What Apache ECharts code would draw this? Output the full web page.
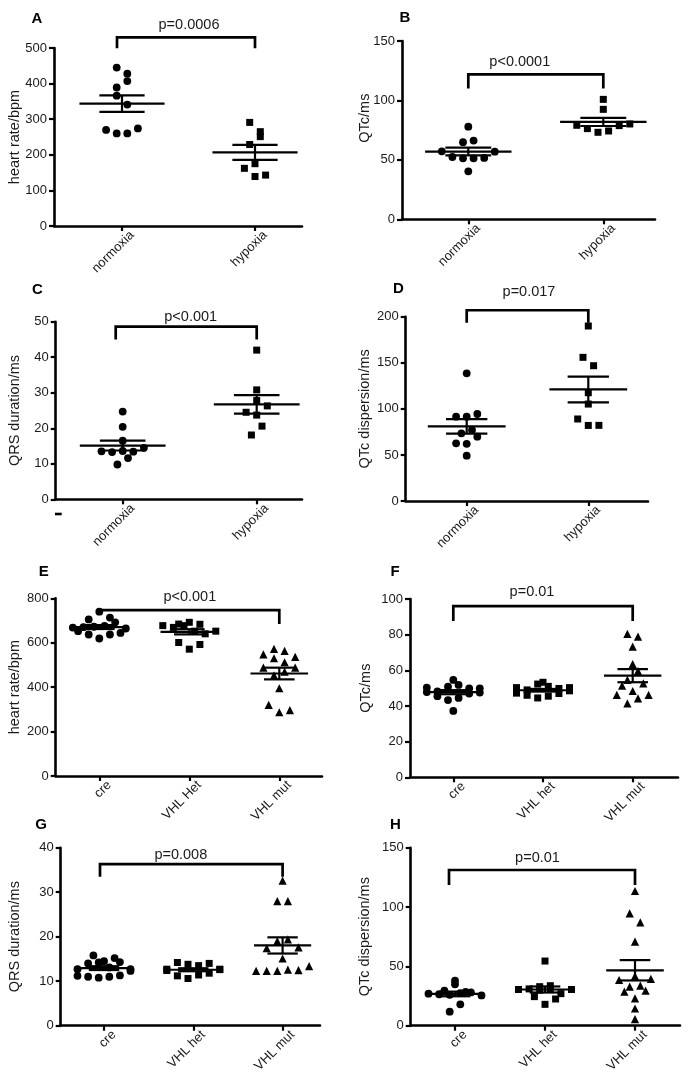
<!DOCTYPE html>
<html>
<head>
<meta charset="utf-8">
<title>ECG parameters</title>
<script src="https://cdn.jsdelivr.net/npm/echarts@6.0.0/dist/echarts.min.js"></script>
<style>
html,body{margin:0;padding:0;background:#ffffff;}
#chart{width:688px;height:1088px;}
</style>
</head>
<body>
<div id="chart"></div>
<script>
// ================= DATA =================
const catsHypoxia = ['normoxia', 'hypoxia'];
const catsVHLE = ['cre', 'VHL Het', 'VHL mut'];
const catsVHL = ['cre', 'VHL het', 'VHL mut'];

// A: heart rate (bpm)
const aNormoxia = [445, 428, 389, 407, 366, 341, 270, 260, 260, 274];
const aHypoxia = [291, 265, 229, 251, 175, 162, 139, 143];
const ticksA = [0, 100, 200, 300, 400, 500];
const nameA = 'heart rate/bpm';
const pA = 'p=0.0006';
const bracketA = [1, 2, 499, 499, 530];

// B: QTc (ms)
const bNormoxia = [77.9, 64.8, 66.2, 57.2, 52.4, 51.3, 51.3, 51.6, 56.9, 40.4];
const bHypoxia = [100.9, 92.5, 79.1, 76.3, 73.2, 74.3, 78.8, 80.2];
const ticksB = [0, 50, 100, 150];
const nameB = 'QTc/ms';
const pB = 'p<0.0001';
const bracketB = [1, 2, 110, 110, 122];

// C: QRS duration (ms)
const cNormoxia = [24.7, 20.4, 16.5, 13.5, 13.3, 13.6, 13.4, 14.5, 9.8, 11.6];
const cHypoxia = [42.0, 30.8, 27.8, 24.5, 23.7, 26.3, 18.1, 20.6];
const ticksC = [0, 10, 20, 30, 40, 50];
const nameC = 'QRS duration/ms';
const pC = 'p<0.001';
const bracketC = [1, 2, 45, 45, 48.6];

// D: QTc dispersion (ms)
const dNormoxia = [138.5, 91.5, 91.5, 94.4, 73.4, 77.0, 62.6, 62.0, 69.8, 49.2];
const dHypoxia = [189.9, 155.9, 146.8, 117.5, 105.2, 89.0, 82.0, 82.1];
const ticksD = [0, 50, 100, 150, 200];
const nameD = 'QTc dispersion/ms';
const pD = 'p=0.017';
const bracketD = [1, 2, 193.5, 193.5, 207];

// E: heart rate (bpm)
const eCre = [705, 740, 713, 668, 670, 672, 676, 692, 664, 652, 637, 619, 637, 644];
const eHet = [684, 677, 669, 692, 677, 683, 652, 640, 652, 601, 571, 592];
const eMut = [572, 563, 548, 530, 512, 536, 488, 453, 470, 488, 395, 320, 287, 297];
const ticksE = [0, 200, 400, 600, 800];
const nameE = 'heart rate/bpm';
const pE = 'p<0.001';
const bracketE = [1, 3, 738, 684, 747];

// F: QTc (ms)
const fCre = [54.6, 50.3, 48.2, 50.8, 51.8, 49.9, 49.9, 47.8, 45.5, 43.3, 44.5, 47.0, 47.5, 37.2];
const fHet = [53.3, 50.3, 49.0, 52.3, 51.0, 49.8, 50.3, 47.2, 46.0, 44.5, 45.5, 47.0, 48.5];
const fMut = [80.4, 78.9, 73.3, 63.5, 54.6, 59.6, 51.4, 48.4, 52.7, 46.2, 41.5, 44.3, 46.2];
const ticksF = [0, 20, 40, 60, 80, 100];
const nameF = 'QTc/ms';
const pF = 'p=0.01';
const bracketF = [1, 3, 87.6, 87.6, 96];

// G: QRS duration (ms)
const gCre = [15.8, 14.5, 15.2, 12.7, 14.0, 14.2, 13.1, 14.3, 12.7, 11.2, 11.0, 10.8, 11.0, 11.3, 12.3];
const gHet = [12.7, 14.2, 13.8, 13.5, 14.0, 12.7, 12.4, 11.2, 10.6, 11.4, 11.8, 12.6];
const gMut = [32.6, 28.0, 28.0, 17.4, 19.0, 19.4, 17.6, 15.1, 12.3, 12.3, 12.3, 12.6, 12.5, 13.4];
const ticksG = [0, 10, 20, 30, 40];
const nameG = 'QRS duration/ms';
const pG = 'p=0.008';
const bracketG = [1, 3, 33.5, 33.5, 36.3];

// H: QTc dispersion (ms)
const hCre = [29.5, 34.9, 28.5, 37.9, 27.0, 26.5, 26.0, 27.5, 28.0, 25.5, 11.8, 18.0];
const hHet = [54.5, 32.9, 33.7, 30.5, 31.0, 30.0, 31.0, 27.0, 30.5, 24.5, 18.0, 22.5];
const hMut = [113.5, 94.7, 87.1, 70.8, 41.8, 38.5, 32.9, 33.7, 39.4, 28.7, 23.1, 29.5, 14.5, 5.6];
const ticksH = [0, 50, 100, 150];
const nameH = 'QTc dispersion/ms';
const pH = 'p=0.01';
const bracketH = [1, 3, 118.6, 118.6, 131.2];

// ================= LAYOUT (pixels) =================
const LAYOUT = {
  A: {axisX: 54, top: 48, bottom: 226, cat1: 122, step: 133, xEnd: 302, nameGap: 31.2, letter: [37, 18.5], pDx: 3, pGap: 12, legDx: -5},
  B: {axisX: 402, top: 41, bottom: 219.3, cat1: 468.3, step: 135, xEnd: 655, nameGap: 29.7, namePad: [0, 0, 0, 24], letter: [405, 18], pDx: -16, pGap: 12, legDx: 0},
  C: {axisX: 55.7, top: 321.7, bottom: 499.3, cat1: 122.7, step: 134, xEnd: 302, nameGap: 33.7, letter: [37.5, 290], pDx: 4.5, pGap: 10, legDx: -7},
  D: {axisX: 405.7, top: 316.7, bottom: 501, cat1: 466.7, step: 121.6, xEnd: 648, nameGap: 32.9, letter: [398.3, 288.5], pDx: 1.5, pGap: 18, legDx: 0},
  E: {axisX: 55.7, top: 598.3, bottom: 776, cat1: 99.3, step: 90, xEnd: 322, nameGap: 33.4, letter: [43.8, 571.5], pDx: 0.5, pGap: 13, legDx: 0},
  F: {axisX: 410, top: 599, bottom: 777.3, cat1: 453.3, step: 89.7, xEnd: 678, nameGap: 36.3, letter: [395, 571.7], pDx: -11, pGap: 14, legDx: 0},
  G: {axisX: 60.7, top: 847.7, bottom: 1025.7, cat1: 104, step: 89.3, xEnd: 320, nameGap: 38.2, letter: [41, 824.5], pDx: -10.5, pGap: 9, legDx: -4},
  H: {axisX: 410.7, top: 847.7, bottom: 1025.7, cat1: 455, step: 90, xEnd: 680, nameGap: 38.4, letter: [395.3, 824.5], pDx: -4.5, pGap: 12, legDx: -6}
};
// rotated category label anchor (right end, middle) relative to the tick foot
const CAT_LABEL_DX = 10, CAT_LABEL_DY = 7;

const FONT = '"Liberation Sans", Arial, Helvetica, sans-serif';
const INK = '#000000';
const TEXT = '#1a1a1a';
const SYMBOLS = ['circle', 'rect', 'triangle'];
const SYMBOL_SIZES = [7.8, 7, 8.2];

const PANELS = [
  {key: 'A', cats: catsHypoxia, groups: [aNormoxia, aHypoxia], ticks: ticksA, name: nameA, p: pA, bracket: bracketA},
  {key: 'B', cats: catsHypoxia, groups: [bNormoxia, bHypoxia], ticks: ticksB, name: nameB, p: pB, bracket: bracketB},
  {key: 'C', cats: catsHypoxia, groups: [cNormoxia, cHypoxia], ticks: ticksC, name: nameC, p: pC, bracket: bracketC},
  {key: 'D', cats: catsHypoxia, groups: [dNormoxia, dHypoxia], ticks: ticksD, name: nameD, p: pD, bracket: bracketD},
  {key: 'E', cats: catsVHLE, groups: [eCre, eHet, eMut], ticks: ticksE, name: nameE, p: pE, bracket: bracketE},
  {key: 'F', cats: catsVHL, groups: [fCre, fHet, fMut], ticks: ticksF, name: nameF, p: pF, bracket: bracketF},
  {key: 'G', cats: catsVHL, groups: [gCre, gHet, gMut], ticks: ticksG, name: nameG, p: pG, bracket: bracketG},
  {key: 'H', cats: catsVHL, groups: [hCre, hHet, hMut], ticks: ticksH, name: nameH, p: pH, bracket: bracketH}
];

// ================= HELPERS =================
function meanSem(v) {
  const n = v.length;
  const m = v.reduce((a, b) => a + b, 0) / n;
  const sd = Math.sqrt(v.reduce((a, b) => a + (b - m) * (b - m), 0) / (n - 1));
  return [m, sd / Math.sqrt(n)];
}

// Prism-like row spreading: points whose values lie within a marker height
// share a row and are spread symmetrically around the category centre.
function spreadOffsets(vals, pxPerUnit) {
  const TH = 9.8, SP = 10.6, CAP = 6;
  const idx = vals.map((v, i) => i).sort((a, b) => (vals[a] - vals[b]) || (a - b));
  const off = new Array(vals.length).fill(0);
  let i = 0;
  while (i < idx.length) {
    const start = vals[idx[i]];
    const g = [idx[i]];
    let j = i + 1;
    while (j < idx.length && g.length < CAP && (vals[idx[j]] - start) * pxPerUnit <= TH) {
      g.push(idx[j]); j++;
    }
    g.sort((a, b) => a - b);
    g.forEach((k, r) => { off[k] = (r - (g.length - 1) / 2) * SP; });
    i = j;
  }
  return off;
}

// ================= BUILD OPTION =================
const grid = [], xAxis = [], yAxis = [], series = [], graphic = [];

PANELS.forEach((P, k) => {
  const L = LAYOUT[P.key];
  const ymin = P.ticks[0], ymax = P.ticks[P.ticks.length - 1];
  const interval = P.ticks[1] - P.ticks[0];
  const W = L.xEnd - L.axisX, H = L.bottom - L.top;
  const xmin = 1 - (L.cat1 - L.axisX) / L.step;
  const xmax = 1 + (L.xEnd - L.cat1) / L.step;
  const xPx = L.step;
  const yPx = H / (ymax - ymin);
  const catPos = P.cats.map((c, i) => i + 1);

  grid.push({left: L.axisX, top: L.top, width: W, height: H, outerBoundsMode: 'none', containLabel: false});

  xAxis.push({
    gridIndex: k, type: 'value', min: xmin, max: xmax,
    splitLine: {show: false},
    axisLine: {show: true, onZero: false, lineStyle: {color: INK, width: 2.6}},
    axisTick: {show: true, customValues: catPos, length: 5, inside: false, lineStyle: {color: INK, width: 2.2}},
    axisLabel: {show: false}
  });

  yAxis.push({
    gridIndex: k, type: 'value', min: ymin, max: ymax, interval: interval,
    name: P.name, nameLocation: 'middle', nameRotate: 90, nameGap: L.nameGap,
    nameMoveOverlap: false,
    nameTextStyle: {fontSize: 14.5, color: TEXT, fontFamily: FONT, padding: L.namePad || 0},
    splitLine: {show: false},
    axisLine: {show: true, onZero: false, lineStyle: {color: INK, width: 2.6}},
    axisTick: {show: true, length: 5, lineStyle: {color: INK, width: 2.2}},
    axisLabel: {fontSize: 13, color: TEXT, fontFamily: FONT, margin: 7}
  });

  // individual points
  P.groups.forEach((vals, gi) => {
    const off = spreadOffsets(vals, yPx);
    series.push({
      type: 'scatter', xAxisIndex: k, yAxisIndex: k, silent: true, z: 2,
      symbol: SYMBOLS[gi], symbolSize: SYMBOL_SIZES[gi],
      itemStyle: {color: INK, opacity: 1},
      data: vals.map((v, i) => [gi + 1 + off[i] / xPx, v])
    });
  });

  // mean and SEM
  const mh = L.step * 0.32, sh = L.step * 0.17;
  series.push({
    type: 'custom', xAxisIndex: k, yAxisIndex: k, silent: true, z: 3, clip: false,
    data: P.groups.map((vals, gi) => { const ms = meanSem(vals); return [gi + 1, ms[0], ms[1]]; }),
    renderItem: (params, api) => {
      const x = api.value(0), m = api.value(1), s = api.value(2);
      const c = api.coord([x, m]), hi = api.coord([x, m + s]), lo = api.coord([x, m - s]);
      const st = {stroke: INK, lineWidth: 2.2};
      return {type: 'group', children: [
        {type: 'line', shape: {x1: c[0] - mh, y1: c[1], x2: c[0] + mh, y2: c[1]}, style: st},
        {type: 'line', shape: {x1: c[0] - sh, y1: hi[1], x2: c[0] + sh, y2: hi[1]}, style: st},
        {type: 'line', shape: {x1: c[0] - sh, y1: lo[1], x2: c[0] + sh, y2: lo[1]}, style: st},
        {type: 'line', shape: {x1: c[0], y1: hi[1], x2: c[0], y2: lo[1]}, style: st}
      ]};
    }
  });

  // rotated category labels under the ticks
  series.push({
    type: 'custom', xAxisIndex: k, yAxisIndex: k, silent: true, z: 4, clip: false,
    data: catPos.map((pos, i) => [pos, ymin, i]),
    renderItem: (params, api) => {
      const pos = api.value(0), i = api.value(2);
      const pt = api.coord([pos, ymin]);
      return {
        type: 'text', x: pt[0] + CAT_LABEL_DX, y: pt[1] + CAT_LABEL_DY, rotation: Math.PI / 4,
        style: {text: P.cats[i], fill: TEXT, fontSize: 13, fontFamily: FONT,
                align: 'right', verticalAlign: 'middle', textAlign: 'right', textVerticalAlign: 'middle'}
      };
    }
  });

  // significance bracket and p value
  series.push({
    type: 'custom', xAxisIndex: k, yAxisIndex: k, silent: true, z: 4, clip: false,
    data: [P.bracket],
    renderItem: (params, api) => {
      const f = api.value(0), t = api.value(1), ll = api.value(2), lr = api.value(3), b = api.value(4);
      const p1 = api.coord([f, ll]), p2 = api.coord([f, b]), p3 = api.coord([t, b]), p4 = api.coord([t, lr]);
      const dx = L.legDx || 0;
      return {type: 'group', children: [
        {type: 'polyline', shape: {points: [[p1[0] + dx, p1[1]], [p2[0] + dx, p2[1]], [p3[0], p3[1]], [p4[0], p4[1]]]},
         style: {stroke: INK, lineWidth: 2.7, fill: 'none'}},
        {type: 'text', x: (p2[0] + dx + p3[0]) / 2 + L.pDx, y: p2[1] - L.pGap,
         style: {text: P.p, fill: TEXT, fontSize: 14.5, fontFamily: FONT,
                 align: 'center', verticalAlign: 'middle', textAlign: 'center', textVerticalAlign: 'middle'}}
      ]};
    }
  });

  // panel letter
  graphic.push({
    type: 'text', x: L.letter[0], y: L.letter[1], silent: true,
    style: {text: P.key, fill: INK, fontSize: 15, fontWeight: 'bold', fontFamily: FONT,
            align: 'center', verticalAlign: 'middle', textAlign: 'center', textVerticalAlign: 'middle'}
  });
});

// small stray mark below panel C's axis origin (present in the source figure)
graphic.push({type: 'rect', x: 55, y: 512.7, silent: true, shape: {width: 6.7, height: 2.6}, style: {fill: INK}});

const chart = echarts.init(document.getElementById('chart'), null, {renderer: 'canvas', width: 688, height: 1088});
chart.setOption({
  animation: false,
  backgroundColor: '#ffffff',
  grid: grid,
  xAxis: xAxis,
  yAxis: yAxis,
  series: series,
  graphic: graphic
});
</script>
</body>
</html>
